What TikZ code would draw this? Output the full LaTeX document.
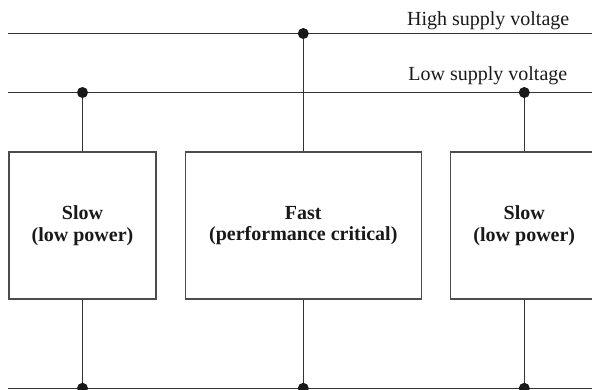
\documentclass[tikz,border=0pt]{standalone}
\usepackage{fontspec}
\setmainfont{Liberation Serif}
\begin{document}
\begin{tikzpicture}[x=1pt,y=-1pt,
  wire/.style={draw=black!80, line width=1.1pt},
  boxnode/.style={draw=black!70, line width=1.1pt, inner sep=0pt, minimum height=147pt,
    font=\fontsize{20}{21.5}\selectfont\bfseries, align=center, text=black!90},
  dot/.style={circle, fill=black!90, inner sep=0pt, minimum size=11pt},
  rlabel/.style={font=\fontsize{20}{24}\selectfont, anchor=base east, inner sep=0pt, text=black!90}]
\useasboundingbox (0,0) rectangle (592,389);
\clip (0,0) rectangle (592,389);

% supply rails
\coordinate (hl) at (8.3,33.5);
\coordinate (hr) at (592,33.5);
\coordinate (ll) at (8.3,92.5);
\coordinate (lr) at (592,92.5);
\coordinate (gl) at (8.3,388.3);
\coordinate (gr) at (592,388.3);

% junctions
\coordinate (jh) at (303.3,33.5);
\coordinate (jl1) at (82.5,92.5);
\coordinate (jl2) at (524.3,92.5);
\coordinate (jg1) at (82.5,388.3);
\coordinate (jg2) at (303.3,388.3);
\coordinate (jg3) at (524.3,388.3);

% blocks
\node[boxnode, minimum width=147pt] (slowA) at (82.5,225.5) {Slow\\(low power)};
\node[boxnode, minimum width=235.7pt] (fast) at (303.3,225.5) {Fast\\(performance critical)};
\node[boxnode, minimum width=147pt] (slowB) at (524.3,225.5) {Slow\\(low power)};

% labels
\node[rlabel] (hlab) at (569.5,25) {High supply voltage};
\node[rlabel] (llab) at (567.5,80) {Low supply voltage};

% wires
\draw[wire] (hl) -- (hr);
\draw[wire] (ll) -- (lr);
\draw[wire] (gl) -- (gr);
\draw[wire] (jh) -- (fast.north);
\draw[wire] (jl1) -- (slowA.north);
\draw[wire] (jl2) -- (slowB.north);
\draw[wire] (slowA.south) -- (jg1);
\draw[wire] (fast.south) -- (jg2);
\draw[wire] (slowB.south) -- (jg3);

% dots
\node[dot] (dh) at (jh) {};
\node[dot] (dl1) at (jl1) {};
\node[dot] (dl2) at (jl2) {};
\node[dot] (dg1) at (jg1) {};
\node[dot] (dg2) at (jg2) {};
\node[dot] (dg3) at (jg3) {};
\end{tikzpicture}
\end{document}
